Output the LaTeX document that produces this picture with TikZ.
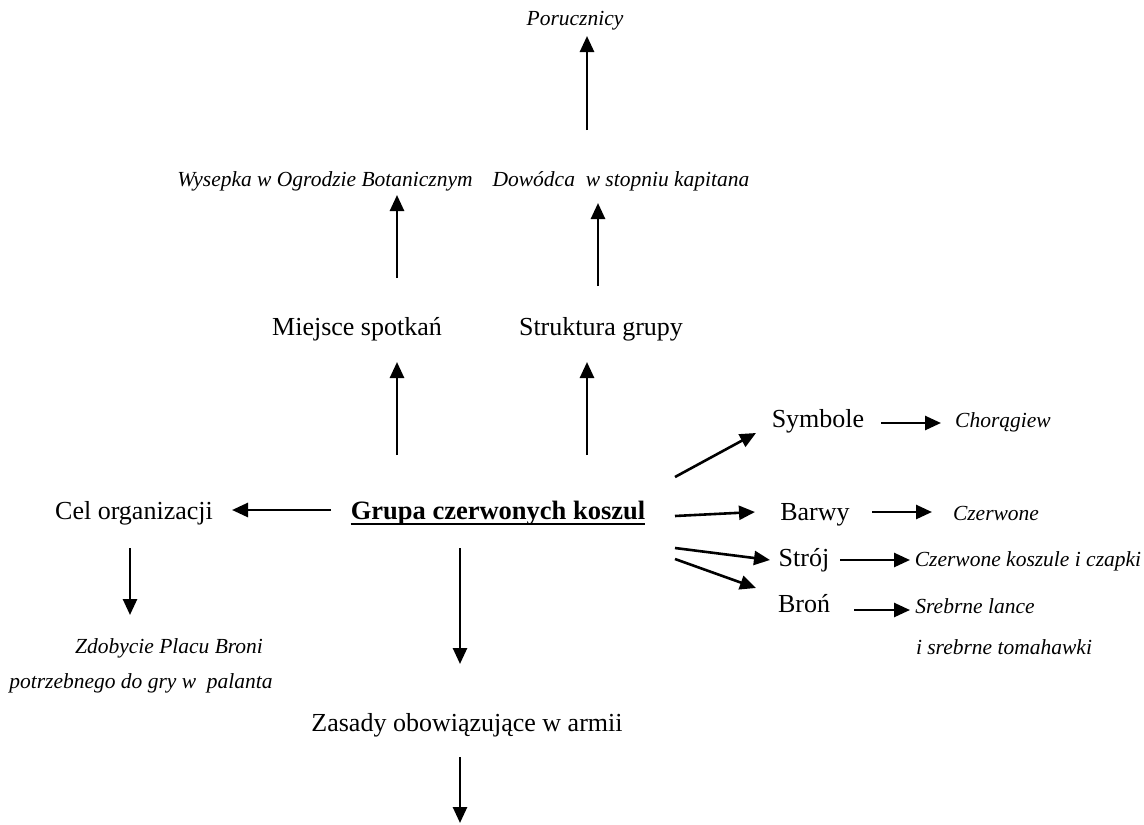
\documentclass[tikz,border=0pt]{standalone}
\usepackage{fontspec}
\setmainfont{Liberation Serif}
\usetikzlibrary{arrows.meta}
\tikzset{
  reg/.style={inner sep=0pt, anchor=base, font=\fontsize{26}{30}\selectfont},
  ital/.style={inner sep=0pt, anchor=base, font=\fontsize{21.5}{26}\selectfont\itshape},
  bold/.style={inner sep=0pt, anchor=base, font=\fontsize{26.5}{30}\selectfont\bfseries},
  arr/.style={line width=2.6pt, -{Triangle[length=16pt,width=14pt]}},
}
\begin{document}
\begin{tikzpicture}[x=1pt,y=-1pt]
\useasboundingbox (0,0) rectangle (1144,825);
% nodes
\node[ital] (por) at (575,25) {Porucznicy};
\node[ital] (wys) at (325,186) {Wysepka w Ogrodzie Botanicznym};
\node[ital] (dow) at (621,186) {Dowódca\ \ w stopniu kapitana};
\node[reg] (mie) at (357,335) {Miejsce spotkań};
\node[reg] (str) at (601,335) {Struktura grupy};
\node[bold] (gru) at (498,519) {Grupa czerwonych koszul};
\draw[line width=2.4pt] ([yshift=-5pt]gru.base west) -- ([yshift=-5pt]gru.base east);
\node[reg] (cel) at (134,519) {Cel organizacji};
\node[ital] (zdo) at (169,653) {Zdobycie Placu Broni};
\node[ital] (pot) at (141,688) {potrzebnego do gry w\ \ palanta};
\node[reg] (zas) at (467,731) {Zasady obowiązujące w armii};
\node[reg] (sym) at (818,427) {Symbole};
\node[ital] (cho) at (1003,427) {Chorągiew};
\node[reg] (bar) at (815,520) {Barwy};
\node[ital] (cze) at (996,520) {Czerwone};
\node[reg] (stj) at (804,566) {Strój};
\node[ital] (czk) at (1028,566) {Czerwone koszule i czapki};
\node[reg] (bro) at (804,612) {Broń};
\node[ital] (sre) at (975,613) {Srebrne lance};
\node[ital] (tom) at (1004,654) {i srebrne tomahawki};
% arrow end points
\coordinate (a1s) at (587,130); \coordinate (a1e) at (587,36);
\coordinate (a2s) at (397,278); \coordinate (a2e) at (397,195);
\coordinate (a3s) at (598,286); \coordinate (a3e) at (598,203);
\coordinate (a4s) at (397,455); \coordinate (a4e) at (397,362);
\coordinate (a5s) at (587,455); \coordinate (a5e) at (587,362);
\coordinate (a6s) at (331,510); \coordinate (a6e) at (232,510);
\coordinate (a7s) at (130,548); \coordinate (a7e) at (130,615);
\coordinate (a8s) at (460,548); \coordinate (a8e) at (460,664);
\coordinate (a9s) at (460,757); \coordinate (a9e) at (460,823);
\coordinate (b1s) at (675,477); \coordinate (b1e) at (756,433);
\coordinate (b2s) at (675,516); \coordinate (b2e) at (755,512);
\coordinate (b3s) at (675,548); \coordinate (b3e) at (770,560);
\coordinate (b4s) at (675,559); \coordinate (b4e) at (756,588);
\coordinate (c1s) at (881,423); \coordinate (c1e) at (941,423);
\coordinate (c2s) at (872,512); \coordinate (c2e) at (932,512);
\coordinate (c3s) at (840,560); \coordinate (c3e) at (910,560);
\coordinate (c4s) at (854,610); \coordinate (c4e) at (910,610);
% connectors
\foreach \a in {a1,a2,a3,a4,a5,a6,a7,a8,a9,b1,b2,b3,b4,c1,c2,c3,c4}
  \draw[arr] (\a s) -- (\a e);
\end{tikzpicture}
\end{document}
